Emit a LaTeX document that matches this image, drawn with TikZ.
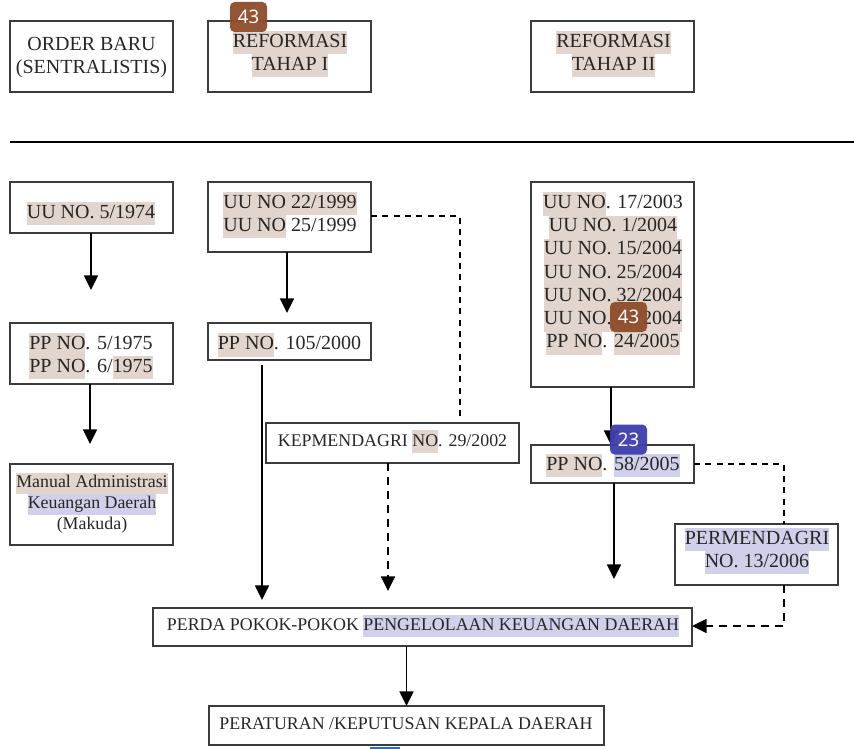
\documentclass[tikz,border=0pt]{standalone}
\usepackage{fontspec}
\setmainfont{Liberation Serif}
\newfontfamily\badgefont{Noto Sans}
\usetikzlibrary{arrows.meta,positioning}
\definecolor{hlbrown}{HTML}{E2D5CD}
\definecolor{hlblue}{HTML}{D0D0EA}
\definecolor{ink}{HTML}{262626}
\definecolor{badgebrown}{HTML}{8F4E2B}
\definecolor{badgeblue}{HTML}{3F3FAF}
\definecolor{badgesliver}{HTML}{2F6DB0}
\setlength{\fboxsep}{0pt}
\newcommand{\hlb}[1]{\colorbox{hlbrown}{\strut #1}}
\newcommand{\hlv}[1]{\colorbox{hlblue}{\strut #1}}
\tikzset{
  box/.style={draw=ink!90,line width=1pt,inner sep=0pt,outer sep=0pt},
  txt/.style={inner sep=0pt,align=center,text=ink,font=\fontsize{15}{17.4}\selectfont},
  small/.style={txt,font=\fontsize{13.4}{15.8}\selectfont},
  mid/.style={txt,font=\fontsize{13.4}{17}\selectfont},
  solidarrow/.style={line width=1.2pt,black,-{Triangle[length=11pt,width=10.5pt]}},
  dashline/.style={line width=.8pt,black,dash pattern=on 4.5pt off 4pt},
  dasharrow/.style={line width=1.2pt,black,dash pattern=on 6pt off 4.5pt,-{Triangle[length=11pt,width=10.5pt]}},
  badge/.style={rounded corners=3.5pt,minimum width=27.75pt,minimum height=22.5pt,inner sep=0pt,
    text=white,font=\badgefont\fontsize{14}{16}\selectfont,fill opacity=.96,text opacity=1},
}
\begin{document}
\begin{tikzpicture}[x=.75pt,y=-.75pt]
  \useasboundingbox (0,0) rectangle (854,749);
  %Header boxes
  \node[box,minimum width=122.25pt,minimum height=53.25pt] (orde) at (91.5,56.5) {};
  \node[box,minimum width=122.25pt,minimum height=53.25pt] (ref1) at (289.5,56.5) {};
  \node[box,minimum width=122.25pt,minimum height=53.25pt] (ref2) at (612.5,56.5) {};
  \node[txt] (ordet) at (91.5,57.5) {ORDER BARU\\(SENTRALISTIS)};
  \node[txt] (ref1t) at (290,54) {\hlb{REFORMASI}\\\hlb{TAHAP I}};
  \node[txt] (ref2t) at (613.5,54) {\hlb{REFORMASI}\\\hlb{TAHAP II}};
  %Separator
  \coordinate (sepl) at (10,142);
  \coordinate (sepr) at (854,142);
  \draw[line width=1pt,black] (sepl) -- (sepr);
  %Order baru column
  \node[box,minimum width=122.25pt,minimum height=38.25pt] (uu74) at (91.5,207.5) {};
  \node[txt] (uu74t) at (91,213.5) {\hlb{UU NO. 5/1974}};
  \node[box,minimum width=122.25pt,minimum height=45.75pt] (pp75) at (91.5,353.5) {};
  \node[txt] (pp75t) at (91,356) {\hlb{PP NO}. 5/1975\\\hlb{PP NO}. 6/\hlb{1975}};
  \node[box,minimum width=122.25pt,minimum height=60.75pt] (mak) at (91.5,504.5) {};
  \node[small] (makt) at (92,503) {\hlb{Manual Administrasi}\\\hlv{Keuangan Daerah}\\(Makuda)};
  %Reformasi I column
  \node[box,minimum width=122.25pt,minimum height=52.5pt] (uu99) at (289.5,217) {};
  \node[txt] (uu99t) at (290,215) {\hlb{UU NO 22/1999}\\\hlb{UU NO} 25/1999};
  \node[box,minimum width=122.25pt,minimum height=27.75pt] (pp00) at (289.5,341.5) {};
  \node[txt] (pp00t) at (289.5,345) {\hlb{PP NO}. 105/2000};
  \node[box,minimum width=189.75pt,minimum height=30pt] (kep) at (392.5,443) {};
  \node[mid] (kept) at (392.5,441.5) {KEPMENDAGRI \hlb{NO}. 29/2002};
  %Reformasi II column
  \node[box,minimum width=122.25pt,minimum height=153.75pt] (uu03) at (612.5,284.5) {};
  \node[txt] (uu03t) at (613,273.5) {\hlb{UU NO}. 17/2003\\\hlb{UU NO. 1/2004}\\\hlb{UU NO. 15/2004}\\\hlb{UU NO. 25/2004}\\\hlb{UU NO. 32/2004}\\\hlb{UU NO. 33/2004}\\\hlb{PP NO}. \hlb{24/2005}};
  \node[box,minimum width=122.25pt,minimum height=28.5pt] (pp58) at (612.5,464) {};
  \node[txt] (pp58t) at (613,465.5) {\hlb{PP NO}. \hlv{58/2005}};
  \node[box,minimum width=122.25pt,minimum height=45.75pt] (perm) at (756.5,554.5) {};
  \node[txt] (permt) at (757,551) {\hlv{PERMENDAGRI}\\\hlv{NO. 13/2006}};
  %Bottom boxes
  \node[box,minimum width=404.25pt,minimum height=28.5pt] (perda) at (422.5,627) {};
  \node[mid] (perdat) at (423,626) {PERDA POKOK-POKOK \hlv{PENGELOLAAN KEUANGAN DAERAH}};
  \node[box,minimum width=296.25pt,minimum height=29.25pt] (perat) at (406.5,725.5) {};
  \node[mid] (peratt) at (406,724) {PERATURAN /KEPUTUSAN KEPALA DAERAH};
  %Free ends of the arrows
  \coordinate (a74) at (91,290);
  \coordinate (a75) at (90,444);
  \coordinate (a99) at (287,313);
  \coordinate (a00) at (262,600);
  \coordinate (akep) at (388,591);
  \coordinate (a03) at (611,445);
  \coordinate (a58) at (614,579);
  \coordinate (dk) at (460,420);
  \coordinate (dp) at (784,524);
  %Solid arrows
  \draw[solidarrow] (uu74.south -| a74) -- (a74);
  \draw[solidarrow] (pp75.south -| a75) -- (a75);
  \draw[solidarrow] (uu99.south -| a99) -- (a99);
  \draw[solidarrow,shorten <=3.5pt] (pp00.south -| a00) -- (a00);
  \draw[solidarrow] (uu03.south -| a03) -- (a03);
  \draw[solidarrow] (pp58.south -| a58) -- (a58);
  \draw[solidarrow] (perda.south -| perat.north) -- (perat.north);
  %Dashed links
  \draw[dashline] (uu99.east |- 0,216) -- (dk |- 0,216) -- (dk);
  \draw[dashline] (pp58.east) -- (dp |- pp58.east) -- (dp);
  \draw[dasharrow] (kep.south -| akep) -- (akep);
  \draw[dasharrow] (perm.south -| dp) -- (dp |- 0,626) -- (perda.east |- 0,626);
  %Badges
  \node[badge,fill=badgebrown] (b1) at (248.5,17) {43};
  \node[badge,fill=badgebrown] (b2) at (628.5,317) {43};
  \node[badge,fill=badgeblue] (b3) at (628.5,439.5) {23};
  \fill[badgesliver] (370,747) rectangle (400,749);
\end{tikzpicture}
\end{document}
